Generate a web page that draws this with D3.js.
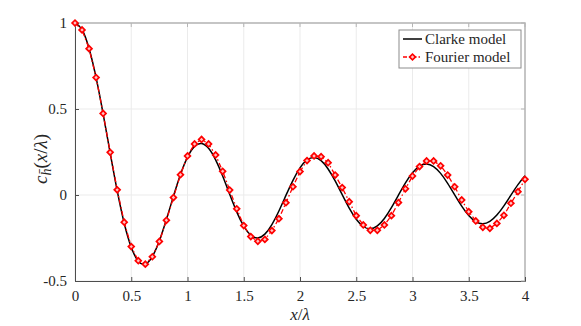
<!DOCTYPE html>
<html>
<head>
<meta charset="utf-8">
<script src="https://cdn.jsdelivr.net/npm/d3@7"></script>
<style>
  body { margin: 0; background: #fff; }
  svg text { font-family: "Liberation Serif", "DejaVu Serif", serif; fill: #262626; }
</style>
</head>
<body>
<div id="chart"></div>
<script>
// sample spacing along x/lambda (1/16)
const step = 1 / 16;

// Clarke model values at x = k/16, k = 0..64
const clarke = [
  1.0000, 0.9618, 0.8516, 0.6820, 0.4720, 0.2450, 0.0250, -0.1644,
  -0.3042, -0.3848, -0.4010, -0.3577, -0.2663, -0.1426, -0.0076, 0.1191,
  0.2203, 0.2828, 0.2997, 0.2713, 0.2040, 0.1100, 0.0039, -0.0982,
  -0.1813, -0.2340, -0.2497, -0.2275, -0.1721, -0.0929, -0.0025, 0.0853,
  0.1576, 0.2040, 0.2184, 0.1996, 0.1514, 0.0818, 0.0017, -0.0765,
  -0.1412, -0.1831, -0.1965, -0.1799, -0.1367, -0.0739, -0.0013, 0.0699,
  0.1291, 0.1676, 0.1801, 0.1651, 0.1256, 0.0679, 0.0010, -0.0648,
  -0.1196, -0.1555, -0.1672, -0.1535, -0.1168, -0.0632, -0.0008, 0.0606,
  0.1120
];

// Fourier model values at the same x
const fourier = [
  1.000, 0.960, 0.851, 0.683, 0.474, 0.248, 0.030, -0.158,
  -0.300, -0.382, -0.402, -0.359, -0.270, -0.147, -0.015, 0.118,
  0.227, 0.297, 0.323, 0.297, 0.233, 0.138, 0.029, -0.080,
  -0.178, -0.242, -0.269, -0.258, -0.207, -0.138, -0.045, 0.048,
  0.136, 0.200, 0.227, 0.223, 0.188, 0.116, 0.043, -0.039,
  -0.120, -0.174, -0.205, -0.205, -0.174, -0.120, -0.044, 0.036,
  0.110, 0.165, 0.198, 0.198, 0.170, 0.116, 0.048, -0.029,
  -0.097, -0.151, -0.188, -0.194, -0.165, -0.118, -0.048, 0.019,
  0.091
];

const xTicks = [0, 0.5, 1, 1.5, 2, 2.5, 3, 3.5, 4];
const xTickLabels = ["0", "0.5", "1", "1.5", "2", "2.5", "3", "3.5", "4"];
const yTicks = [-0.5, 0, 0.5, 1];
const yTickLabels = ["-0.5", "0", "0.5", "1"];
const seriesNames = ["Clarke model", "Fourier model"];

const width = 581, height = 326,
  margin = { top: 23, right: 56, bottom: 45, left: 75 };
const serif = "'Liberation Serif', 'DejaVu Serif', serif";

const svg = d3.select("#chart").append("svg")
  .attr("width", width)
  .attr("height", height);

const x = d3.scaleLinear().domain([0, 4]).range([margin.left, width - margin.right]);
const y = d3.scaleLinear().domain([-0.5, 1]).range([height - margin.bottom, margin.top]);

// grid
svg.append("g").selectAll("line")
  .data(xTicks)
  .join("line")
  .attr("x1", d => x(d)).attr("x2", d => x(d))
  .attr("y1", y(-0.5)).attr("y2", y(1))
  .attr("stroke", "#ebebeb").attr("stroke-width", 1);
svg.append("g").selectAll("line")
  .data(yTicks)
  .join("line")
  .attr("x1", x(0)).attr("x2", x(4))
  .attr("y1", d => y(d)).attr("y2", d => y(d))
  .attr("stroke", "#ebebeb").attr("stroke-width", 1);

// box top/right (lighter)
svg.append("path")
  .attr("d", `M${x(0)},${y(1)}H${x(4)}V${y(-0.5)}`)
  .attr("fill", "none").attr("stroke", "#b5b5b5").attr("stroke-width", 1.5);

// axes
const xAxis = svg.append("g")
  .attr("transform", `translate(0,${y(-0.5)})`)
  .call(d3.axisBottom(x).tickValues(xTicks).tickSize(-4).tickPadding(7)
    .tickFormat((d, i) => xTickLabels[i]));
const yAxis = svg.append("g")
  .attr("transform", `translate(${x(0)},0)`)
  .call(d3.axisLeft(y).tickValues(yTicks).tickSize(-4).tickPadding(8)
    .tickFormat((d, i) => yTickLabels[i]));
[xAxis, yAxis].forEach(a => {
  a.attr("font-family", serif).attr("font-size", 15);
  a.select(".domain").attr("stroke", "#4d4d4d").attr("stroke-width", 1);
  a.selectAll(".tick line").attr("stroke", "#4d4d4d");
  a.selectAll(".tick text")
    .style("font-family", serif)
    .style("font-size", "15px").attr("fill", "#262626");
});
xAxis.selectAll(".tick text").attr("dy", "0.85em");

// top and right ticks
svg.append("g").selectAll("line")
  .data(xTicks)
  .join("line")
  .attr("x1", d => x(d)).attr("x2", d => x(d))
  .attr("y1", y(1)).attr("y2", y(1) + 4)
  .attr("stroke", "#b5b5b5");
svg.append("g").selectAll("line")
  .data(yTicks)
  .join("line")
  .attr("x1", x(4)).attr("x2", x(4) - 4)
  .attr("y1", d => y(d)).attr("y2", d => y(d))
  .attr("stroke", "#b5b5b5");

// lines
const line = d3.line()
  .x((d, i) => x(i * step))
  .y(d => y(d));

svg.append("path")
  .datum(clarke)
  .attr("d", line.curve(d3.curveNatural))
  .attr("fill", "none")
  .attr("stroke", "#000")
  .attr("stroke-width", 1.5);

svg.append("path")
  .datum(fourier)
  .attr("d", line.curve(d3.curveLinear))
  .attr("fill", "none")
  .attr("stroke", "#ff0000")
  .attr("stroke-width", 1.3)
  .attr("stroke-dasharray", "5,2.5,1.5,2.5");

// MATLAB-like diamond: square rotated 45 degrees
const diamond = d3.symbol().type(d3.symbolSquare).size(17);
svg.append("g").selectAll("path")
  .data(fourier)
  .join("path")
  .attr("transform", (d, i) => `translate(${x(i * step)},${y(d)}) rotate(45)`)
  .attr("d", diamond)
  .attr("fill", "#ffc4c4")
  .attr("stroke", "#ff0000")
  .attr("stroke-width", 1.7);

// legend
const lg = svg.append("g").attr("transform", "translate(399,30)");
lg.append("rect")
  .attr("width", 122).attr("height", 38)
  .attr("fill", "#fff").attr("stroke", "#8c8c8c").attr("stroke-width", 1);
lg.append("line")
  .attr("x1", 4).attr("x2", 23).attr("y1", 9).attr("y2", 9)
  .attr("stroke", "#000").attr("stroke-width", 1.5);
lg.append("line")
  .attr("x1", 4).attr("x2", 23).attr("y1", 27).attr("y2", 27)
  .attr("stroke", "#ff0000").attr("stroke-width", 1.3)
  .attr("stroke-dasharray", "4,2,1.5,2");
lg.append("path")
  .attr("transform", "translate(13.5,27) rotate(45)")
  .attr("d", diamond)
  .attr("fill", "#ffc4c4").attr("stroke", "#ff0000").attr("stroke-width", 1.7);
lg.selectAll("text.lab")
  .data(seriesNames)
  .join("text")
  .attr("x", 26)
  .attr("y", (d, i) => 9 + i * 18)
  .attr("dy", "0.35em")
  .style("font-family", serif)
  .style("font-size", "15px")
  .text(d => d);

// axis labels
const xl = svg.append("text")
  .attr("x", x(2))
  .attr("y", 320)
  .attr("text-anchor", "middle")
  .style("font-family", serif)
  .style("font-size", "17px");
xl.append("tspan").style("font-style", "italic").text("x");
xl.append("tspan").text("/");
xl.append("tspan").style("font-style", "italic").text("λ");

const yl = svg.append("text")
  .attr("transform", `translate(47,${y(0.21)}) rotate(-90)`)
  .attr("text-anchor", "middle")
  .style("font-family", serif)
  .style("font-size", "19px");
yl.append("tspan").style("font-style", "italic").text("c");
yl.append("tspan").style("font-style", "italic").style("font-size", "14px")
  .attr("dy", 4).text("h\u0304");
yl.append("tspan").attr("dy", -4).text("(");
yl.append("tspan").style("font-style", "italic").text("x");
yl.append("tspan").text("/");
yl.append("tspan").style("font-style", "italic").text("λ");
yl.append("tspan").text(")");
</script>
</body>
</html>
